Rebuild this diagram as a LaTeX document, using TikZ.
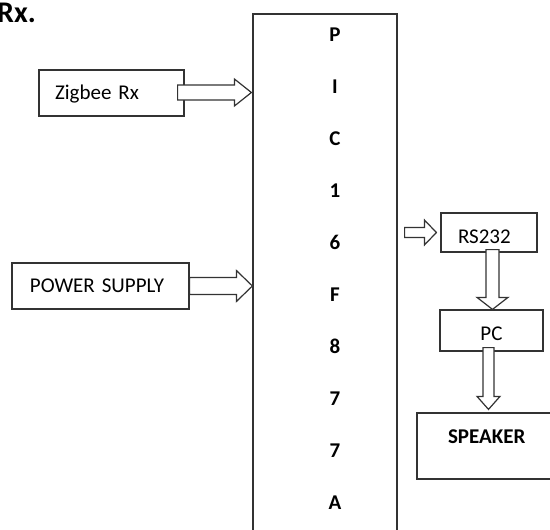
\documentclass[tikz,border=0pt]{standalone}
\usepackage{fontspec}
\setmainfont{Carlito}
\usetikzlibrary{calc}
\definecolor{ln}{HTML}{333333}
\tikzset{
  box/.style={draw=ln, line width=1.2pt, fill=white, rectangle, inner ysep=0pt,
    font=\fontsize{21}{25}\selectfont, text height=13.5pt, text depth=0pt},
  barrow/.style={draw=ln, line width=1.2pt, fill=white, line join=miter},
  letter/.style={inner sep=0pt, font=\bfseries\fontsize{21}{25}\selectfont, text height=13.5pt, text depth=0pt}
}
\newcommand{\harrow}[5]{%
  \draw[barrow] let \p1=(#1), \p2=(#2) in
    (\x1,\y2+#3pt) -- (\x2-#5pt,\y2+#3pt) -- (\x2-#5pt,\y2+#4pt) -- (\x2,\y2)
    -- (\x2-#5pt,\y2-#4pt) -- (\x2-#5pt,\y2-#3pt) -- (\x1,\y2-#3pt) -- cycle;}
\newcommand{\varrow}[5]{%
  \draw[barrow] let \p1=(#1), \p2=(#2) in
    (\x2+#3pt,\y1) -- (\x2+#3pt,\y2+#5pt) -- (\x2+#4pt,\y2+#5pt) -- (\x2,\y2)
    -- (\x2-#4pt,\y2+#5pt) -- (\x2-#3pt,\y2+#5pt) -- (\x2-#3pt,\y1) -- cycle;}
\begin{document}
\begin{tikzpicture}[x=1pt,y=-1pt]
\useasboundingbox (0,0) rectangle (550,530);
\clip (0,0) rectangle (550,530);
\fill[white] (0,0) rectangle (550,530);

% title fragment
\node[anchor=base east, inner sep=0pt, font=\bfseries\fontsize{30}{34}\selectfont] (title) at (36,23) {Rx.};

% PIC box
\node[box, minimum width=144pt, minimum height=540pt] (pic) at (325,284) {};
\foreach \t [count=\i from 0] in {P,I,C,1,6,F,8,7,7,A}
  \node[letter] (l\i) at (335,35+52*\i) {\t};

% blocks
\node[box, minimum width=145pt, minimum height=46pt, inner xsep=16pt, text width=113pt, align=left] (zig) at (111.5,93) {Zigbee Rx};
\node[box, minimum width=177pt, minimum height=46pt, inner xsep=18pt, text width=141pt, align=left] (pwr) at (100.5,286) {POWER SUPPLY};
\node[box, minimum width=96pt, minimum height=39pt, inner xsep=17pt, text width=62pt, align=left, text height=22.5pt] (rs) at (489,232.5) {RS232};
\node[box, minimum width=103pt, minimum height=41pt, inner xsep=0pt, text height=20.5pt] (pc) at (491.5,330.5) {PC};
\node[box, minimum width=148pt, minimum height=66pt, inner xsep=31pt, text width=86pt, align=left, text depth=19pt, font=\bfseries\fontsize{21}{25}\selectfont] (spk) at (491,446) {SPEAKER};

% arrows
\coordinate (z1) at ($(zig.east)+(-7,-0.5)$);
\coordinate (z2) at ($(pic.west |- zig.east)+(-1,-0.5)$);
\harrow{z1}{z2}{7.5}{13.5}{17}

\coordinate (p1) at (pwr.east);
\coordinate (p2) at (pic.west |- pwr.east);
\harrow{p1}{p2}{8.5}{15.5}{16}

\coordinate (r1) at ($(pic.east |- rs.west)+(7,0)$);
\coordinate (r2) at ($(rs.west)+(-4,0)$);
\harrow{r1}{r2}{5}{12.5}{12}

\coordinate (q1) at ($(rs.south)+(3.5,-3)$);
\coordinate (q2) at (q1 |- pc.north);
\varrow{q1}{q2}{6.5}{15.5}{12}

\coordinate (s1) at ($(pc.south)+(-3,-4)$);
\coordinate (s2) at ($(s1 |- spk.north)+(0,-3)$);
\varrow{s1}{s2}{5.5}{11.5}{13}
\end{tikzpicture}
\end{document}
